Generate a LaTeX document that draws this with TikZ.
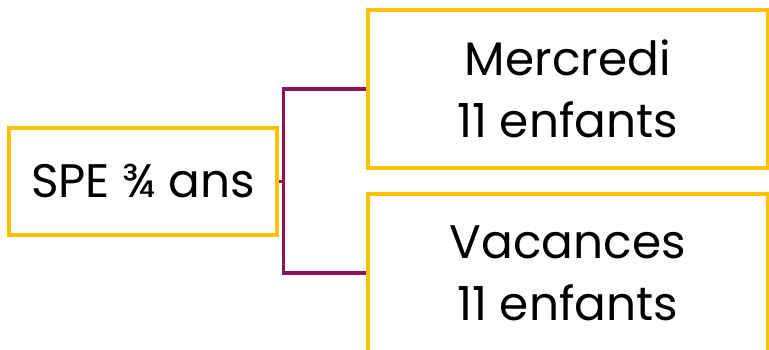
\documentclass[tikz,border=0pt]{standalone}
\usepackage{fontspec}
\setmainfont{Poppins}
\usepackage{tikz}
\usetikzlibrary{positioning}
\definecolor{gold}{RGB}{255,192,0}
\definecolor{plum}{RGB}{142,16,86}

\begin{document}
\begin{tikzpicture}[x = 1pt, y = -1pt,
  box/.style = {draw = gold, line width = 3.5pt, fill = white, shape = rectangle, inner sep = 0pt, font = \fontsize{47}{62}\selectfont, align = center},
  link/.style = {draw = plum, line width = 3.5pt}]
\useasboundingbox (0,0) rectangle (769,350);
\node[box, minimum width = 268pt, minimum height = 107pt] (1) at (143,181.5) {SPE ¾ ans};
\node[box, minimum width = 399.5pt, minimum height = 158pt] (2) at (567.75,89) {Mercredi\\11 enfants};
\node[box, minimum width = 399.5pt, minimum height = 158pt] (3) at (567.75,273) {Vacances\\11 enfants};
\coordinate (fork) at (283.5,181.5);
\draw[link] (1.east) -- (fork);
\draw[link] (fork) |- (2.west);
\draw[link] (fork) |- (3.west);
\end{tikzpicture}
\end{document}
